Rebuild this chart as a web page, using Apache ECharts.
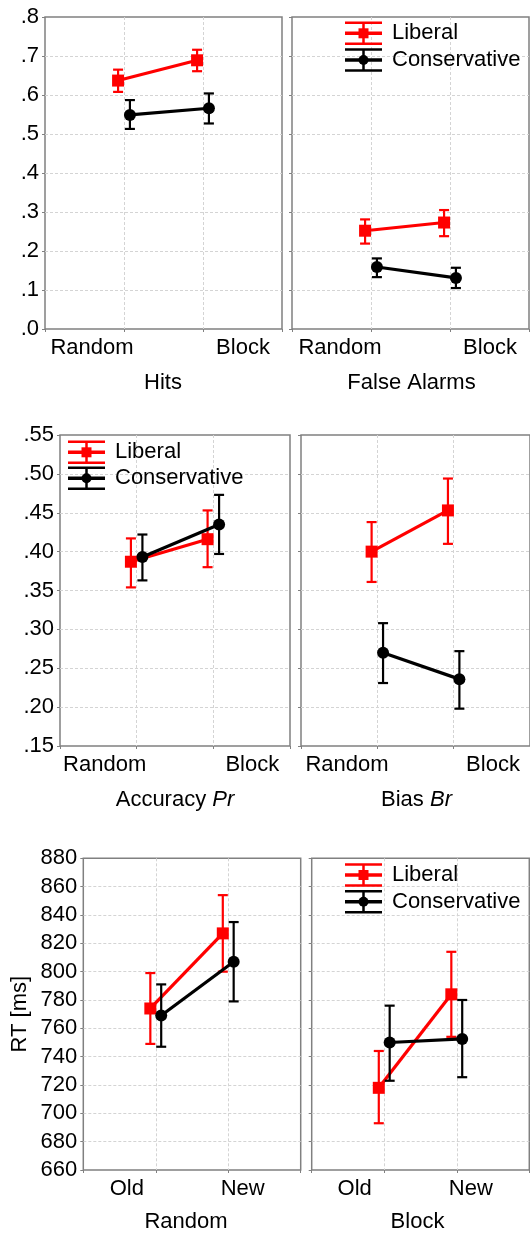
<!DOCTYPE html>
<html>
<head>
<meta charset="utf-8">
<style>
  html, body { margin: 0; padding: 0; background: #fff; }
  #chart { width: 530px; height: 1233px; }
</style>
<script src="https://cdn.jsdelivr.net/npm/echarts@6/dist/echarts.min.js"></script>
</head>
<body>
<div id="chart"></div>
<script>
// ---------------- DATA ----------------
const conditions = ['Random', 'Block'];
const rtConditions = ['Old', 'New'];
const groups = ['Liberal', 'Conservative'];
const panelTitles = ['Hits', 'False Alarms', 'Accuracy Pr', 'Bias Br', 'Random', 'Block'];

const probTicks = ['.0', '.1', '.2', '.3', '.4', '.5', '.6', '.7', '.8'];
const prTicks = ['.15', '.20', '.25', '.30', '.35', '.40', '.45', '.50', '.55'];
const rtTicks = ['660', '680', '700', '720', '740', '760', '780', '800', '820', '840', '860', '880'];

// Hits
const hitsLib = [0.637, 0.689];
const hitsLibLo = [0.608, 0.661];
const hitsLibHi = [0.665, 0.716];
const hitsCon = [0.549, 0.566];
const hitsConLo = [0.513, 0.527];
const hitsConHi = [0.587, 0.604];
// False alarms
const faLib = [0.252, 0.273];
const faLibLo = [0.219, 0.238];
const faLibHi = [0.281, 0.305];
const faCon = [0.159, 0.131];
const faConLo = [0.133, 0.105];
const faConHi = [0.181, 0.157];
// Accuracy Pr
const accLib = [0.387, 0.416];
const accLibLo = [0.354, 0.380];
const accLibHi = [0.417, 0.453];
const accCon = [0.393, 0.435];
const accConLo = [0.363, 0.397];
const accConHi = [0.422, 0.473];
// Bias Br
const biasLib = [0.400, 0.453];
const biasLibLo = [0.361, 0.410];
const biasLibHi = [0.438, 0.494];
const biasCon = [0.270, 0.236];
const biasConLo = [0.231, 0.198];
const biasConHi = [0.308, 0.272];
// RT Random
const rtRandLib = [774, 827];
const rtRandLibLo = [749, 800];
const rtRandLibHi = [799, 854];
const rtRandCon = [769, 807];
const rtRandConLo = [747, 779];
const rtRandConHi = [791, 835];
// RT Block
const rtBlockLib = [718, 784];
const rtBlockLibLo = [693, 754];
const rtBlockLibHi = [744, 814];
const rtBlockCon = [750, 752.5];
const rtBlockConLo = [723, 725.5];
const rtBlockConHi = [776, 780];

// ---------------- LAYOUT / STYLE ----------------
const FONT = "'Liberation Sans', Arial, sans-serif";
const FS = 22;
const RED = '#ff0000';
const BLACK = '#000000';
const DODGE = 0.075;
const TOPZ = 100;

const grids = [
  { left: 45, top: 17, width: 237, height: 312 },
  { left: 292, top: 17, width: 237, height: 312 },
  { left: 60, top: 435, width: 230, height: 311 },
  { left: 301, top: 435, width: 231, height: 311 },
  { left: 83.3, top: 858.3, width: 217.4, height: 311.7 },
  { left: 311.7, top: 858.3, width: 217.6, height: 311.7 }
];

const panels = [
  { cats: conditions, ticks: probTicks, min: 0, max: 0.8, interval: 0.1, showY: true,
    lib: [hitsLib, hitsLibLo, hitsLibHi], con: [hitsCon, hitsConLo, hitsConHi],
    catY: 348, titleY: 383, titleX: 163, catOff: [-32, 40] },
  { cats: conditions, ticks: probTicks, min: 0, max: 0.8, interval: 0.1, showY: false,
    lib: [faLib, faLibLo, faLibHi], con: [faCon, faConLo, faConHi],
    catY: 348, titleY: 383, titleX: 411.5, catOff: [-31, 40] },
  { cats: conditions, ticks: prTicks, min: 0.15, max: 0.55, interval: 0.05, showY: true,
    lib: [accLib, accLibLo, accLibHi], con: [accCon, accConLo, accConHi],
    catY: 765, titleY: 800, titleX: 175, catOff: [-32, 39] },
  { cats: conditions, ticks: prTicks, min: 0.15, max: 0.55, interval: 0.05, showY: false,
    lib: [biasLib, biasLibLo, biasLibHi], con: [biasCon, biasConLo, biasConHi],
    catY: 765, titleY: 800, titleX: 416.5, catOff: [-31, 38] },
  { cats: rtConditions, ticks: rtTicks, min: 660, max: 880, interval: 20, showY: true,
    lib: [rtRandLib, rtRandLibLo, rtRandLibHi], con: [rtRandCon, rtRandConLo, rtRandConHi],
    catY: 1189, titleY: 1221.5, titleX: 186, catOff: [-29, 14.5], yName: 'RT [ms]' },
  { cats: rtConditions, ticks: rtTicks, min: 660, max: 880, interval: 20, showY: false,
    lib: [rtBlockLib, rtBlockLibLo, rtBlockLibHi], con: [rtBlockCon, rtBlockConLo, rtBlockConHi],
    catY: 1189, titleY: 1221.5, titleX: 417.5, catOff: [-29.5, 14] }
];

const splitStyle = { color: '#d4d4d4', type: [3, 2], width: 1 };

function errRender(color) {
  return function (params, api) {
    const x = api.value(0);
    const pLo = api.coord([x, api.value(1)]);
    const pHi = api.coord([x, api.value(2)]);
    const h = 5;
    const st = { stroke: color, lineWidth: 2.2, fill: null };
    return {
      type: 'group',
      children: [
        { type: 'line', shape: { x1: pLo[0], y1: pLo[1], x2: pHi[0], y2: pHi[1] }, style: st },
        { type: 'line', shape: { x1: pHi[0] - h, y1: pHi[1], x2: pHi[0] + h, y2: pHi[1] }, style: st },
        { type: 'line', shape: { x1: pLo[0] - h, y1: pLo[1], x2: pLo[0] + h, y2: pLo[1] }, style: st }
      ]
    };
  };
}

const gridOpt = [], xAxes = [], yAxes = [], series = [], graphics = [];

panels.forEach((p, i) => {
  const g = grids[i];
  gridOpt.push(Object.assign({ show: true, borderColor: '#808080', borderWidth: 1.5,
    backgroundColor: 'transparent', containLabel: false }, g));
  xAxes.push({
    type: 'value', gridIndex: i, min: 0, max: 3, interval: 1,
    axisLine: { show: false },
    axisTick: { show: true, length: 3, lineStyle: { color: '#808080' } },
    axisLabel: { show: false },
    splitLine: { show: true, showMinLine: false, showMaxLine: false, lineStyle: splitStyle }
  });
  yAxes.push({
    type: 'value', gridIndex: i, min: p.min, max: p.max, interval: p.interval,
    name: p.yName || '', nameLocation: 'middle', nameGap: 52, nameRotate: 90,
    nameTextStyle: { fontFamily: FONT, fontSize: FS, color: '#000' },
    axisLine: { show: false },
    axisTick: { show: true, length: 3, lineStyle: { color: '#808080' } },
    axisLabel: {
      show: p.showY, fontFamily: FONT, fontSize: FS, color: '#000', margin: 6,
      formatter: (v, idx) => p.ticks[idx]
    },
    splitLine: { show: true, showMinLine: false, showMaxLine: false, lineStyle: splitStyle }
  });

  const defs = [
    { src: p.lib, color: RED, symbol: 'rect', size: 12, off: -DODGE, name: groups[0] },
    { src: p.con, color: BLACK, symbol: 'circle', size: 12, off: DODGE, name: groups[1] }
  ];
  defs.forEach((d, k) => {
    const [mean, lo, hi] = d.src;
    series.push({
      type: 'custom', name: d.name + ' err', xAxisIndex: i, yAxisIndex: i,
      renderItem: errRender(d.color), z: 2 + k * 3,
      data: mean.map((m, j) => [j + 1 + d.off, lo[j], hi[j]]),
      silent: true, animation: false
    });
    series.push({
      type: 'line', name: d.name, xAxisIndex: i, yAxisIndex: i,
      data: mean.map((m, j) => [j + 1 + d.off, m]),
      symbol: d.symbol, symbolSize: d.size, showSymbol: true,
      lineStyle: { color: d.color, width: 3.2 },
      itemStyle: { color: d.color, borderWidth: 0 },
      z: 3 + k * 3, silent: true, animation: false
    });
  });

  // category labels
  p.cats.forEach((c, j) => {
    const tickX = g.left + g.width * (j + 1) / 3;
    graphics.push({
      type: 'text', x: tickX + p.catOff[j], y: p.catY, z: TOPZ,
      style: { text: c, font: FS + 'px ' + FONT, fill: '#000', align: 'center', verticalAlign: 'middle' }
    });
  });
  // panel title
  const t = panelTitles[i];
  const parts = t.split(' ');
  let styleText;
  if (i === 2 || i === 3) {
    styleText = {
      text: '{n|' + parts[0] + ' }{it|' + parts[1] + '}',
      rich: {
        n: { fontFamily: FONT, fontSize: FS, fill: '#000' },
        it: { fontFamily: FONT, fontSize: FS, fontStyle: 'italic', fill: '#000' }
      },
      align: 'center', verticalAlign: 'middle'
    };
  } else {
    styleText = { text: t, font: FS + 'px ' + FONT, fill: '#000', align: 'center', verticalAlign: 'middle' };
  }
  graphics.push({ type: 'text', x: p.titleX, y: p.titleY, z: TOPZ, style: styleText });
});

// legends
function legendItem(x, y, color, symbol, label) {
  const w = 37, cap = 10.5;
  const st = { stroke: color, lineWidth: 2.5 };
  return [
    { type: 'line', z: TOPZ, shape: { x1: x, y1: y - cap, x2: x + w, y2: y - cap }, style: st },
    { type: 'line', z: TOPZ, shape: { x1: x, y1: y + cap, x2: x + w, y2: y + cap }, style: st },
    { type: 'line', z: TOPZ, shape: { x1: x + w / 2, y1: y - cap, x2: x + w / 2, y2: y + cap }, style: st },
    { type: 'line', z: TOPZ, shape: { x1: x, y1: y, x2: x + w, y2: y }, style: { stroke: color, lineWidth: 3.5 } },
    symbol === 'rect'
      ? { type: 'rect', z: TOPZ, shape: { x: x + w / 2 - 5, y: y - 5, width: 10, height: 10 }, style: { fill: color } }
      : { type: 'circle', z: TOPZ, shape: { cx: x + w / 2, cy: y, r: 5 }, style: { fill: color } },
    { type: 'text', z: TOPZ, x: x + w + 10, y: y, style: { text: label, font: FS + 'px ' + FONT, fill: '#000', verticalAlign: 'middle' } }
  ];
}
const legendPos = [
  [345, 33.3, 60],
  [68, 452.3, 478.3],
  [345, 875, 901.7]
];
legendPos.forEach(([x, y1, y2]) => {
  legendItem(x, y1, RED, 'rect', groups[0]).concat(legendItem(x, y2, BLACK, 'circle', groups[1]))
    .forEach(el => graphics.push(el));
});

const chart = echarts.init(document.getElementById('chart'), null, { renderer: 'canvas' });
chart.setOption({
  animation: false,
  backgroundColor: '#ffffff',
  grid: gridOpt,
  xAxis: xAxes,
  yAxis: yAxes,
  series: series,
  graphic: { elements: graphics }
});
</script>
</body>
</html>
